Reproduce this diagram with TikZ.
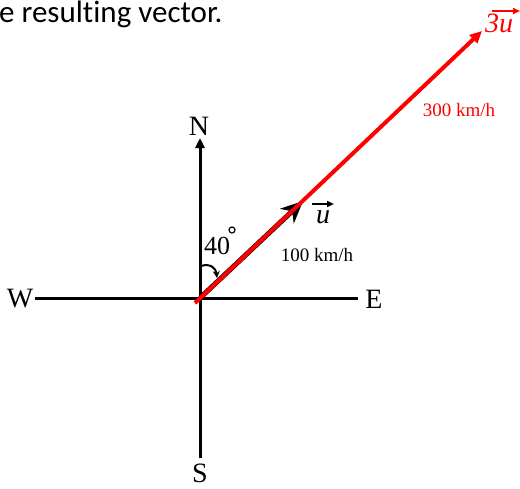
\documentclass[tikz,border=0pt]{standalone}
\usepackage{fontspec}
\setmainfont{Liberation Serif}
\newfontfamily\calib[Ligatures={NoCommon}]{Carlito}
\usetikzlibrary{arrows.meta}
\begin{document}
\begin{tikzpicture}[x=1pt,y=-1pt,
  axis/.style={line width=3pt,black},
  dirlabel/.style={font=\fontsize{28}{30}\selectfont,inner sep=0pt},
  vecblack/.style={line width=5pt,black,-{Stealth[length=22pt,width=20pt]}},
  vecred/.style={line width=4pt,red,-{Triangle[length=12pt,width=11pt]}},
  speed/.style={font=\fontsize{19}{21}\selectfont,inner sep=0pt},
  overarrow/.style={line width=1.8pt,-{Triangle[length=7pt,width=6pt]}},
  vlet/.style={inner sep=0pt,font=\fontsize{28}{30}\selectfont\itshape}]
\useasboundingbox (0,0) rectangle (520,488);
% top text
\node[anchor=base west,inner sep=0pt,font=\calib\fontsize{31}{34}\selectfont] (top) at (-1,22) {e resulting vector.};
% compass
\coordinate (O) at (200,298);
\coordinate (Ntip) at (200,138);
\coordinate (Send) at (200,458);
\coordinate (Wend) at (35,298);
\coordinate (Eend) at (358,298);
\draw[axis,-{Triangle[length=10pt,width=9pt]}] (Send) -- (Ntip);
\draw[axis] (Wend) -- (Eend);
\node[dirlabel] (N) at (199,126) {N};
\node[dirlabel] (S) at (200,473) {S};
\node[dirlabel] (W) at (20,299) {W};
\node[dirlabel] (E) at (374,299) {E};
% vectors
\coordinate (U) at (303,201);
\coordinate (R0) at (195,303);
\coordinate (R1) at (482,31);
\draw[vecblack] (O) -- (U);
\draw[vecred] (R0) -- (R1);
% u label
\node[vlet,anchor=base] (ublk) at (323,223) {u};
\coordinate (ua0) at (312,204);
\coordinate (ua1) at (334,204);
\draw[overarrow] (ua0) -- (ua1);
% 3u label
\node[vlet,red,anchor=base] (u3) at (499,32) {3u};
\coordinate (ra0) at (492,11);
\coordinate (ra1) at (520,11);
\draw[overarrow,red] (ra0) -- (ra1);
\node[speed] (s100) at (317,255) {100 km/h};
\node[speed,red] (s300) at (459,110) {300 km/h};
% angle
\node[inner sep=0pt,font=\fontsize{26}{28}\selectfont] (ang) at (217,246) {40};
\draw[line width=1.2pt] (232,230) circle (3pt);
\coordinate (a0) at (201,266);
\coordinate (a1) at (217,278);
\draw[line width=2pt,-{Stealth[length=7pt,width=7pt]}] (a0) .. controls (210,263) and (216,268) .. (a1);
\end{tikzpicture}
\end{document}
